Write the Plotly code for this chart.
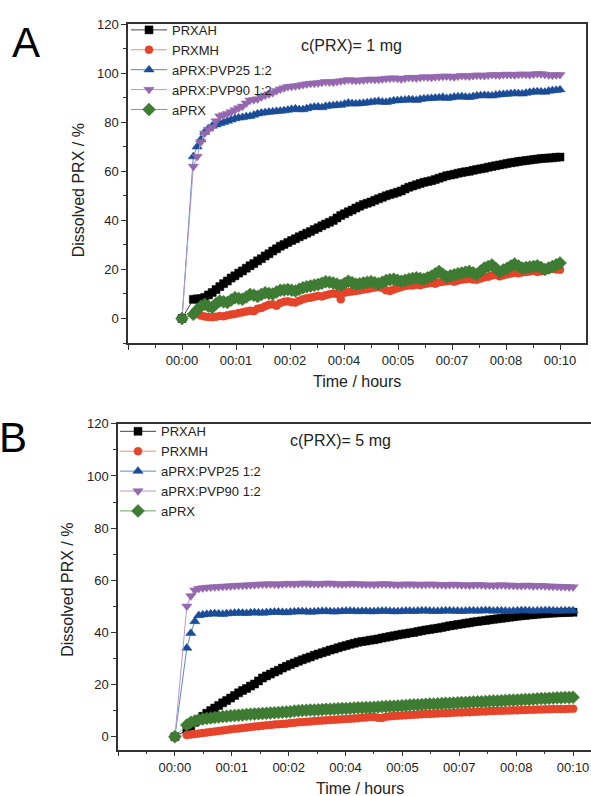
import plotly.graph_objects as go

# ---------------- data ----------------
T = [0,
     0.3, 0.4, 0.5, 0.6, 0.7, 0.8, 0.9,
     1.0, 1.1, 1.2, 1.3, 1.4, 1.5, 1.6, 1.7, 1.8, 1.9,
     2.0, 2.1, 2.2, 2.3, 2.4, 2.5, 2.6, 2.7, 2.8, 2.9,
     3.0, 3.1, 3.2, 3.3, 3.4, 3.5, 3.6, 3.7, 3.8, 3.9,
     4.0, 4.1, 4.2, 4.3, 4.4, 4.5, 4.6, 4.7, 4.8, 4.9,
     5.0, 5.1, 5.2, 5.3, 5.4, 5.5, 5.6, 5.7, 5.8, 5.9,
     6.0, 6.1, 6.2, 6.3, 6.4, 6.5, 6.6, 6.7, 6.8, 6.9,
     7.0, 7.1, 7.2, 7.3, 7.4, 7.5, 7.6, 7.7, 7.8, 7.9,
     8.0, 8.1, 8.2, 8.3, 8.4, 8.5, 8.6, 8.7, 8.8, 8.9,
     9.0, 9.1, 9.2, 9.3, 9.4, 9.5, 9.6, 9.7, 9.8, 9.9,
     10.0]

SERIES_NAMES = ["PRXAH", "PRXMH", "aPRX:PVP25 1:2", "aPRX:PVP90 1:2", "aPRX"]

# Panel A: c(PRX) = 1 mg
A_PRXAH = [0,
           7.8, 8.0, 8.1, 8.6, 9.6, 10.6, 11.8,
           13.0, 14.2, 15.3, 16.5, 17.4, 18.5, 19.4, 20.5, 21.5, 22.4,
           23.5, 24.4, 25.5, 26.4, 27.5, 28.4, 29.5, 30.2, 31.0, 31.8,
           32.5, 33.3, 34.0, 34.8, 35.5, 36.3, 37.0, 37.8, 38.5, 39.2,
           40.0, 41.0, 42.0, 42.7, 43.5, 44.2, 45.0, 45.8, 46.5, 47.0,
           47.5, 48.2, 48.8, 49.4, 50.0, 50.5, 51.0, 51.5, 52.0, 52.8,
           53.5, 54.0, 54.5, 55.0, 55.5, 55.8, 56.2, 56.7, 57.2, 57.7,
           58.2, 58.5, 58.8, 59.2, 59.5, 59.8, 60.0, 60.4, 60.7, 61.0,
           61.3, 61.7, 62.0, 62.3, 62.6, 62.9, 63.2, 63.5, 63.7, 64.0,
           64.2, 64.4, 64.6, 64.8, 65.0, 65.2, 65.3, 65.4, 65.5, 65.7,
           65.8]
A_PRXMH = [0,
           1.5, 1.8, 1.2, 0.8, 0.6, 0.5, 0.7,
           1.0, 0.9, 1.3, 1.6, 1.8, 2.2, 2.5, 2.9, 3.2, 3.0,
           4.0, 4.3, 5.0, 5.6, 5.8, 5.2, 6.3, 6.8, 7.0, 6.6,
           6.5, 7.2, 7.8, 8.3, 8.5, 8.9, 9.2, 9.0, 9.5, 9.9,
           10.2, 10.0, 7.8, 10.5, 10.8, 11.0, 11.2, 11.5, 11.8, 12.0,
           12.3, 12.6, 12.8, 12.4, 11.5, 11.2, 11.8, 12.3, 12.8, 13.2,
           13.5, 13.4, 13.8, 13.6, 14.0, 14.3, 14.5, 14.2, 14.8, 15.0,
           15.2, 15.4, 15.0, 15.5, 15.8, 16.0, 16.2, 15.9, 15.8, 16.3,
           16.8, 17.0, 17.5, 17.8, 17.2, 17.6, 18.0, 18.3, 18.6, 18.4,
           18.8, 19.0, 19.2, 19.5, 19.0, 19.3, 19.6, 19.9, 20.2, 20.0,
           19.9]
A_PVP25 = [0,
           66.0, 70.0, 73.0, 76.0, 77.5, 78.5, 79.0,
           79.5, 80.0, 80.5, 81.0, 81.5, 81.8, 82.0, 82.3, 82.5, 83.0,
           83.5, 83.8, 84.0, 84.2, 84.3, 84.5, 84.6, 84.8, 85.0, 85.3,
           85.5, 85.2, 85.2, 85.6, 86.0, 86.2, 86.3, 86.0, 86.5, 86.7,
           86.8, 87.0, 87.0, 87.4, 87.9, 87.6, 87.5, 87.7, 87.8, 88.0,
           88.2, 88.4, 88.6, 88.3, 88.2, 88.5, 88.8, 88.9, 89.0, 89.1,
           89.3, 89.2, 89.0, 89.4, 89.6, 89.7, 89.8, 89.9, 90.0, 90.2,
           89.8, 90.0, 90.3, 90.4, 90.5, 90.3, 90.2, 90.5, 90.8, 90.9,
           91.0, 90.9, 90.8, 91.1, 91.3, 91.4, 91.5, 91.7, 91.8, 91.7,
           91.6, 91.9, 92.2, 92.4, 92.5, 92.4, 92.3, 92.7, 93.0, 93.1,
           93.3]
A_PVP90 = [0,
           62.0, 66.0, 72.0, 75.5, 77.0, 78.0, 80.5,
           82.5, 83.0, 83.5, 84.2, 85.0, 85.8, 86.5, 87.8, 89.0, 89.2,
           89.5, 90.3, 91.0, 91.5, 92.0, 92.8, 93.5, 94.0, 94.5, 94.6,
           94.8, 95.0, 95.3, 95.6, 95.8, 95.9, 96.0, 96.2, 96.5, 96.4,
           96.3, 96.6, 96.8, 97.0, 97.3, 97.1, 97.0, 97.1, 97.2, 97.4,
           97.5, 97.4, 97.4, 97.6, 97.8, 97.9, 98.0, 97.8, 97.6, 97.9,
           98.2, 98.1, 98.0, 98.3, 98.5, 98.4, 98.3, 98.5, 98.6, 98.7,
           98.8, 98.6, 98.5, 98.8, 99.0, 98.9, 98.8, 99.0, 99.2, 99.1,
           99.0, 99.2, 99.4, 99.3, 99.2, 99.4, 99.5, 99.4, 99.3, 99.5,
           99.6, 99.5, 99.4, 99.6, 99.8, 99.7, 99.5, 99.3, 99.2, 99.3,
           99.4]
A_APRX = [0,
          1.7, 3.5, 5.0, 5.8, 5.0, 4.5, 6.0,
          7.1, 6.8, 6.5, 7.5, 8.5, 8.2, 7.8, 8.8, 9.8, 9.5,
          9.0, 9.8, 10.5, 10.2, 10.0, 10.8, 11.5, 11.6, 11.8, 11.5,
          11.2, 11.9, 12.5, 12.9, 13.2, 13.6, 13.9, 14.4, 15.0, 14.8,
          14.5, 14.0, 13.5, 14.3, 15.2, 14.6, 14.0, 14.2, 14.5, 14.8,
          15.0, 14.6, 14.2, 14.8, 15.5, 15.8, 16.0, 15.6, 15.2, 15.6,
          16.0, 16.3, 16.6, 16.3, 16.0, 16.6, 17.2, 18.2, 19.2, 18.0,
          17.0, 17.4, 17.8, 18.2, 18.5, 18.9, 19.2, 18.6, 18.0, 19.3,
          20.6, 21.2, 21.8, 20.4, 19.0, 19.8, 20.5, 21.4, 22.2, 21.4,
          20.6, 20.8, 21.0, 21.2, 21.5, 20.8, 20.0, 20.6, 21.2, 21.9,
          22.6]

# Panel B: c(PRX) = 5 mg
B_PRXAH = [0,
           2.5, 4.0, 5.5, 6.5, 7.8, 9.0, 10.0,
           11.0, 12.0, 13.0, 13.9, 14.8, 15.8, 16.8, 17.7, 18.5, 19.4,
           20.2, 21.4, 22.5, 23.3, 24.0, 24.8, 25.5, 26.3, 27.0, 27.7,
           28.3, 28.9, 29.5, 30.1, 30.6, 31.2, 31.7, 32.2, 32.7, 33.2,
           33.6, 34.1, 34.6, 35.0, 35.4, 35.8, 36.2, 36.5, 36.7, 37.0,
           37.2, 37.5, 37.8, 38.1, 38.4, 38.7, 39.0, 39.3, 39.5, 39.8,
           40.0, 40.3, 40.6, 40.9, 41.1, 41.4, 41.6, 41.9, 42.2, 42.5,
           42.7, 43.0, 43.2, 43.5, 43.7, 44.0, 44.2, 44.4, 44.6, 44.8,
           45.0, 45.2, 45.4, 45.6, 45.8, 46.0, 46.2, 46.4, 46.5, 46.7,
           46.8, 47.0, 47.1, 47.2, 47.3, 47.4, 47.5, 47.6, 47.6, 47.7,
           47.7]
B_PRXMH = [0,
           0.6, 0.8, 1.0, 1.2, 1.4, 1.6, 1.8,
           2.0, 2.2, 2.4, 2.6, 2.8, 3.0, 3.1, 3.3, 3.5, 3.7,
           3.9, 4.0, 4.2, 4.4, 4.5, 4.7, 4.8, 4.9, 5.0, 5.2,
           5.3, 5.5, 5.6, 5.7, 5.8, 6.0, 6.1, 6.2, 6.3, 6.4,
           6.5, 6.6, 6.7, 6.8, 6.9, 7.0, 7.1, 7.3, 7.4, 7.5,
           7.5, 7.3, 7.2, 7.6, 7.8, 7.9, 8.0, 8.1, 8.2, 8.3,
           8.4, 8.5, 8.6, 8.7, 8.7, 8.8, 8.9, 9.0, 9.0, 9.1,
           9.2, 9.3, 9.3, 9.4, 9.4, 9.5, 9.6, 9.7, 9.7, 9.8,
           9.8, 9.9, 9.9, 10.0, 10.0, 10.1, 10.1, 10.2, 10.2, 10.3,
           10.3, 10.4, 10.4, 10.5, 10.5, 10.6, 10.6, 10.6, 10.6, 10.7,
           10.7]
B_PVP25 = [0,
           34.0, 39.7, 44.2, 46.5, 46.8, 47.0, 47.1,
           47.2, 47.1, 47.0, 47.2, 47.3, 47.4, 47.5, 47.4, 47.3, 47.5,
           47.6, 47.5, 47.4, 47.6, 47.7, 47.8, 47.8, 47.7, 47.6, 47.8,
           47.9, 48.0, 48.0, 47.9, 47.8, 47.9, 48.0, 48.1, 48.1, 48.0,
           47.9, 48.0, 48.1, 48.2, 48.2, 48.1, 48.0, 48.1, 48.1, 48.0,
           48.0, 48.1, 48.2, 48.2, 48.1, 48.0, 48.0, 48.1, 48.2, 48.2,
           48.1, 48.2, 48.3, 48.3, 48.2, 48.1, 48.1, 48.2, 48.3, 48.3,
           48.2, 48.2, 48.1, 48.2, 48.3, 48.3, 48.2, 48.3, 48.4, 48.4,
           48.2, 48.3, 48.3, 48.2, 48.1, 48.2, 48.3, 48.4, 48.4, 48.3,
           48.2, 48.3, 48.3, 48.4, 48.4, 48.3, 48.2, 48.3, 48.3, 48.3,
           48.3]
B_PVP90 = [0,
           50.0, 54.0, 56.2, 56.8, 57.0, 57.2, 57.3,
           57.4, 57.5, 57.6, 57.7, 57.8, 57.9, 58.0, 58.0, 58.1, 58.2,
           58.3, 58.4, 58.5, 58.5, 58.6, 58.5, 58.4, 58.6, 58.7, 58.7,
           58.6, 58.7, 58.8, 58.8, 58.7, 58.7, 58.6, 58.7, 58.8, 58.8,
           58.7, 58.6, 58.5, 58.6, 58.7, 58.7, 58.6, 58.5, 58.5, 58.5,
           58.4, 58.5, 58.6, 58.6, 58.5, 58.4, 58.3, 58.4, 58.5, 58.5,
           58.4, 58.4, 58.3, 58.4, 58.5, 58.4, 58.3, 58.3, 58.2, 58.3,
           58.4, 58.3, 58.2, 58.2, 58.1, 58.2, 58.3, 58.2, 58.1, 58.1,
           58.0, 58.1, 58.2, 58.1, 58.0, 58.0, 57.9, 57.9, 58.0, 58.0,
           57.8, 57.9, 57.9, 57.8, 57.7, 57.6, 57.6, 57.5, 57.5, 57.4,
           57.4]
B_APRX = [0,
          4.5, 5.5, 6.0, 6.5, 6.8, 7.0, 7.2,
          7.4, 7.5, 7.7, 7.8, 8.0, 8.1, 8.2, 8.3, 8.5, 8.6,
          8.7, 8.8, 8.9, 9.0, 9.1, 9.2, 9.3, 9.4, 9.5, 9.6,
          9.8, 9.9, 10.0, 10.1, 10.2, 10.2, 10.3, 10.4, 10.5, 10.5,
          10.6, 10.7, 10.8, 10.8, 10.9, 11.0, 11.1, 11.1, 11.2, 11.2,
          11.3, 11.4, 11.5, 11.6, 11.7, 11.7, 11.8, 11.9, 12.0, 12.1,
          12.2, 12.2, 12.3, 12.4, 12.5, 12.5, 12.6, 12.7, 12.8, 12.8,
          12.9, 13.0, 13.1, 13.1, 13.2, 13.3, 13.4, 13.4, 13.5, 13.6,
          13.7, 13.7, 13.8, 13.9, 14.0, 14.0, 14.1, 14.2, 14.3, 14.3,
          14.4, 14.5, 14.6, 14.6, 14.7, 14.8, 14.9, 14.9, 15.0, 15.0,
          15.1]

X_TICK_TEXT = ["", "00:00", "00:01", "00:02", "00:04", "00:05", "00:07", "00:08", "00:10"]
Y_TICKS = [0, 20, 40, 60, 80, 100, 120]
PANEL_LABELS = ["A", "B"]
CONC_LABELS = ["c(PRX)= 1 mg", "c(PRX)= 5 mg"]
X_TITLE = "Time / hours"
Y_TITLE = "Dissolved PRX / %"

# ---------------- styling ----------------
W, H = 591, 796
FONT = "Liberation Sans, Arial, sans-serif"
STYLES = [
    dict(color="#000000", line="#444444", symbol="square", size=8),
    dict(color="#E5432A", line="#F08A78", symbol="circle", size=8),
    dict(color="#1A4C97", line="#5A86C8", symbol="triangle-up", size=9),
    dict(color="#9467AE", line="#B898CF", symbol="triangle-down", size=9),
    dict(color="#3E7B33", line="#6AA860", symbol="diamond", size=10),
]

fig = go.Figure()
panels = [
    ([A_PRXAH, A_PRXMH, A_PVP25, A_PVP90, A_APRX], "x", "y", "legend"),
    ([B_PRXAH, B_PRXMH, B_PVP25, B_PVP90, B_APRX], "x2", "y2", "legend2"),
]
for values, xa, ya, lg in panels:
    for name, vals, st in zip(SERIES_NAMES, values, STYLES):
        fig.add_trace(go.Scatter(
            x=T, y=vals, name=name, mode="lines+markers",
            xaxis=xa, yaxis=ya, legend=lg,
            line=dict(color=st["line"], width=1),
            marker=dict(symbol=st["symbol"], size=st["size"], color=st["color"],
                        line=dict(color=st["color"], width=0.5)),
        ))

step = 10 / 7
x_major = [step * (k - 1) for k in range(len(X_TICK_TEXT))]
x_minor = [step * (k - 1) + step / 2 for k in range(len(X_TICK_TEXT))]


def px_x(p):
    return p / W


def px_y(p):
    return 1 - p / H


axis_common = dict(showgrid=False, zeroline=False, showline=True, linecolor="#333333",
                   linewidth=1.5, ticks="outside", ticklen=5, tickwidth=1.2,
                   tickcolor="#333333", tickfont=dict(family=FONT, size=13, color="#222222"))

xaxis_kw = dict(axis_common, tickmode="array", tickvals=x_major, ticktext=X_TICK_TEXT,
                minor=dict(tickmode="array", tickvals=x_minor, ticks="outside",
                           ticklen=3, tickwidth=1, tickcolor="#333333"))
yaxis_kw = dict(axis_common, tickmode="array", tickvals=Y_TICKS,
                minor=dict(tick0=0, dtick=10, ticks="outside", ticklen=3,
                           tickwidth=1, tickcolor="#333333"))

legend_kw = dict(xanchor="left", yanchor="top", bgcolor="rgba(0,0,0,0)",
                 font=dict(family=FONT, size=13, color="#222222"),
                 tracegroupgap=0, itemwidth=36)

fig.update_layout(
    width=W, height=H, margin=dict(l=0, r=0, t=0, b=0),
    paper_bgcolor="white", plot_bgcolor="white",
    font=dict(family=FONT, color="#222222"),
    xaxis=dict(xaxis_kw, domain=[px_x(128), px_x(585.7)], range=[-step, 10.68],
               mirror=True, anchor="y"),
    yaxis=dict(yaxis_kw, domain=[px_y(339), px_y(17.3)], range=[-10, 120],
               mirror=True, anchor="x"),
    xaxis2=dict(xaxis_kw, domain=[px_x(118), 1.0], range=[-step, 10.45],
                mirror=True, anchor="y2"),
    yaxis2=dict(yaxis_kw, domain=[px_y(749.3), px_y(420.5)], range=[-5, 120],
                mirror=False, anchor="x2"),
    legend=dict(legend_kw, x=px_x(126), y=px_y(8)),
    legend2=dict(legend_kw, x=px_x(115), y=px_y(413)),
    showlegend=True,
)

ann = []
for lbl, (cx, cy) in zip(PANEL_LABELS, [(26, 36), (13, 434)]):
    ann.append(dict(text=lbl, x=px_x(cx), y=px_y(cy), xref="paper", yref="paper",
                    showarrow=False, xanchor="center", yanchor="middle",
                    font=dict(family=FONT, size=42, color="#000000")))
for lbl, (cx, cy) in zip(CONC_LABELS, [(351, 39), (340, 437)]):
    ann.append(dict(text=lbl, x=px_x(cx), y=px_y(cy), xref="paper", yref="paper",
                    showarrow=False, xanchor="center", yanchor="middle",
                    font=dict(family=FONT, size=16, color="#222222")))
for (cx, cy) in [(357, 378), (360, 788)]:
    ann.append(dict(text=X_TITLE, x=px_x(cx), y=px_y(cy), xref="paper", yref="paper",
                    showarrow=False, xanchor="center", yanchor="middle",
                    font=dict(family=FONT, size=16, color="#222222")))
for (cx, cy) in [(78, 185), (68, 588)]:
    ann.append(dict(text=Y_TITLE, x=px_x(cx), y=px_y(cy), xref="paper", yref="paper",
                    showarrow=False, xanchor="center", yanchor="middle", textangle=-90,
                    font=dict(family=FONT, size=16, color="#222222")))
fig.update_layout(annotations=ann)

fig.write_html("out.html")
